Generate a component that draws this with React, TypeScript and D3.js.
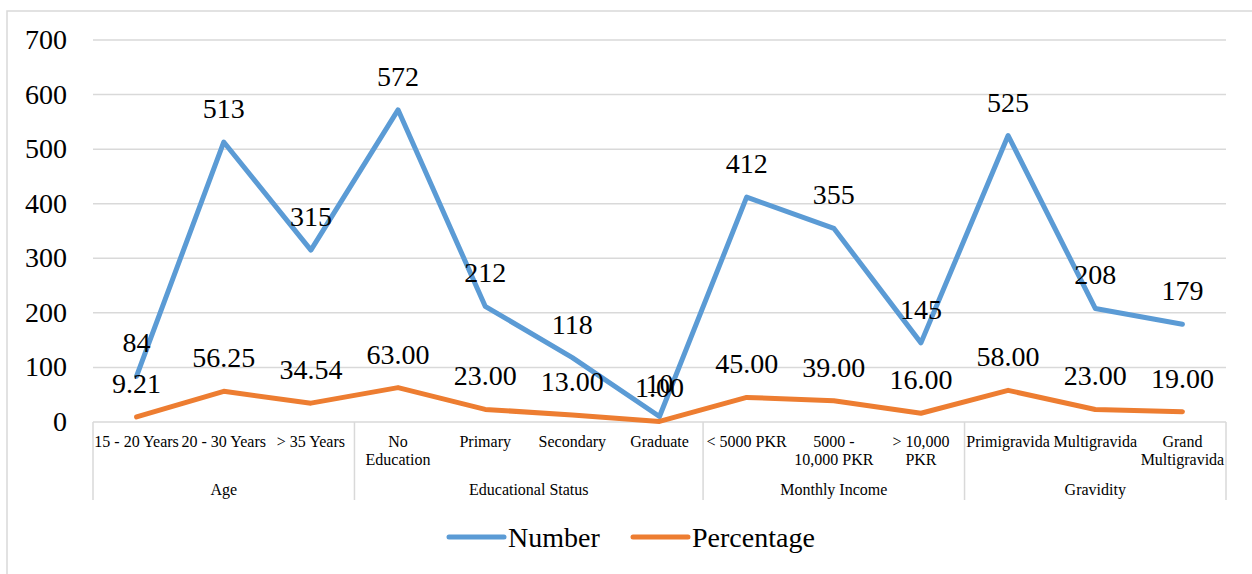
import React from 'react';
import * as d3 from 'd3';

const categories = [
  '15 - 20 Years', '20 - 30 Years', '> 35 Years',
  'No|Education', 'Primary', 'Secondary', 'Graduate',
  '< 5000 PKR', '5000 -|10,000 PKR', '> 10,000|PKR',
  'Primigravida', 'Multigravida', 'Grand|Multigravida',
];
const groups = ['Age', 'Educational Status', 'Monthly Income', 'Gravidity'];
const groupSizes = [3, 4, 3, 3];
const numberValues = [84, 513, 315, 572, 212, 118, 10, 412, 355, 145, 525, 208, 179];
const percentValues = [9.21, 56.25, 34.54, 63.0, 23.0, 13.0, 1.0, 45.0, 39.0, 16.0, 58.0, 23.0, 19.0];
const yTicks = [0, 100, 200, 300, 400, 500, 600, 700];

const W = 1252;
const H = 574;
const left = 93;
const right = 1226;
const top = 40;
const bottom = 422;
const FONT = "'Liberation Serif', 'Times New Roman', serif";
const BLUE = '#5B9BD5';
const ORANGE = '#ED7D31';
const GRID = '#D9D9D9';

const App = () => {
  const x = d3.scaleBand().domain(categories.map((_, i) => String(i))).range([left, right]);
  const y = d3.scaleLinear().domain([0, 700]).range([bottom, top]);
  const cx = (i: number) => (x(String(i)) || 0) + x.bandwidth() / 2;

  const line = d3.line<number>()
    .x((_, i) => cx(i))
    .y(d => y(d));

  // group boundaries
  const bounds: number[] = [0];
  groupSizes.forEach(s => bounds.push(bounds[bounds.length - 1] + s));
  const bx = (k: number) => left + k * x.step();

  const series = [
    { name: 'Number', values: numberValues, color: BLUE, fmt: (d: number) => String(d) },
    { name: 'Percentage', values: percentValues, color: ORANGE, fmt: (d: number) => d.toFixed(2) },
  ];

  return (
    <svg width={W} height={H} style={{ position: 'absolute', left: 0, top: 0, background: '#fff', fontFamily: FONT }}>
      <rect x={7} y={11} width={W + 20} height={H + 20} fill="#fff" stroke={GRID} strokeWidth={1.5} />

      {/* gridlines + y ticks */}
      {yTicks.map(t => (
        <g key={t}>
          {t > 0 && <line x1={left} x2={right} y1={y(t)} y2={y(t)} stroke={GRID} strokeWidth={1.5} />}
          <text x={67} y={y(t) + 9} textAnchor="end" fontSize={28} fill="#000">{t}</text>
        </g>
      ))}

      {/* category axis */}
      <line x1={left} x2={right} y1={bottom} y2={bottom} stroke={GRID} strokeWidth={1.5} />
      {bounds.map(k => (
        <line key={k} x1={bx(k)} x2={bx(k)} y1={bottom} y2={500} stroke={GRID} strokeWidth={1.5} />
      ))}
      {categories.map((c, i) => (
        <text key={i} x={cx(i)} y={447} textAnchor="middle" fontSize={16} fill="#000">
          {c.split('|').map((ln, j) => (
            <tspan key={j} x={cx(i)} dy={j === 0 ? 0 : 18}>{ln}</tspan>
          ))}
        </text>
      ))}
      {groups.map((g, k) => (
        <text key={g} x={(bx(bounds[k]) + bx(bounds[k + 1])) / 2} y={495} textAnchor="middle"
          fontSize={16} fill="#000">{g}</text>
      ))}

      {/* lines */}
      {series.map(s => (
        <path key={s.name} d={line(s.values) || ''} fill="none" stroke={s.color} strokeWidth={5}
          strokeLinejoin="round" strokeLinecap="round" />
      ))}

      {/* data labels */}
      {series.map(s => s.values.map((v, i) => (
        <text key={s.name + i} x={cx(i)} y={y(v) - 24} textAnchor="middle" fontSize={28} fill="#000">
          {s.fmt(v)}
        </text>
      )))}

      {/* legend */}
      <line x1={449} x2={504} y1={537} y2={537} stroke={BLUE} strokeWidth={5} strokeLinecap="round" />
      <text x={508} y={547} fontSize={28} fill="#000">Number</text>
      <line x1={633} x2={688} y1={537} y2={537} stroke={ORANGE} strokeWidth={5} strokeLinecap="round" />
      <text x={692} y={547} fontSize={28} fill="#000">Percentage</text>
    </svg>
  );
};

export default App;
